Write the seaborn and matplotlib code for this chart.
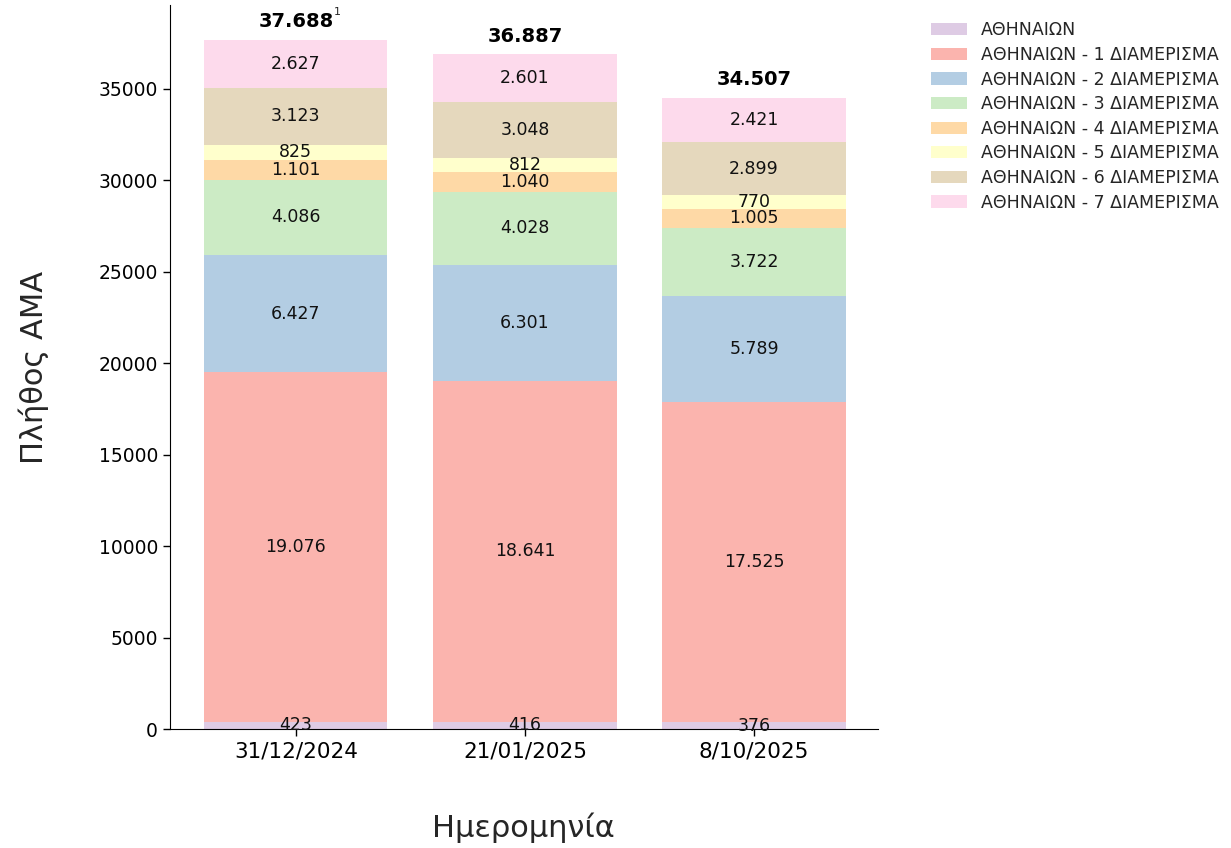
import numpy as np
import seaborn as sns
import matplotlib.pyplot as plt
from matplotlib.patches import Patch

dates = ["31/12/2024", "21/01/2025", "8/10/2025"]
series_names = ["ΑΘΗΝΑΙΩΝ",
                "ΑΘΗΝΑΙΩΝ - 1 ΔΙΑΜΕΡΙΣΜΑ",
                "ΑΘΗΝΑΙΩΝ - 2 ΔΙΑΜΕΡΙΣΜΑ",
                "ΑΘΗΝΑΙΩΝ - 3 ΔΙΑΜΕΡΙΣΜΑ",
                "ΑΘΗΝΑΙΩΝ - 4 ΔΙΑΜΕΡΙΣΜΑ",
                "ΑΘΗΝΑΙΩΝ - 5 ΔΙΑΜΕΡΙΣΜΑ",
                "ΑΘΗΝΑΙΩΝ - 6 ΔΙΑΜΕΡΙΣΜΑ",
                "ΑΘΗΝΑΙΩΝ - 7 ΔΙΑΜΕΡΙΣΜΑ"]
athinaion = [423, 416, 376]
d1 = [19076, 18641, 17525]
d2 = [6427, 6301, 5789]
d3 = [4086, 4028, 3722]
d4 = [1101, 1040, 1005]
d5 = [825, 812, 770]
d6 = [3123, 3048, 2899]
d7 = [2627, 2601, 2421]
series = [athinaion, d1, d2, d3, d4, d5, d6, d7]

pastel = sns.color_palette("Pastel1", 9)
colors = [pastel[3], pastel[0], pastel[1], pastel[2], pastel[4], pastel[5], pastel[6], pastel[7]]

def fmt(v):
    return f"{v:,}".replace(",", ".")

sns.set_style("white")
plt.rcParams['font.family'] = ['DejaVu Sans']

fig, ax = plt.subplots(figsize=(12.31, 8.48), dpi=100)
fig.subplots_adjust(left=0.138, right=0.713, bottom=0.14, top=0.994)

bottom = np.zeros(len(dates))
for name, vals, col in zip(series_names, series, colors):
    vals = np.array(vals)
    sns.barplot(x=dates, y=vals, bottom=bottom, color=col, saturation=1,
                width=0.8, ax=ax, linewidth=0)
    for i, v in enumerate(vals):
        ax.text(i, bottom[i] + v / 2, fmt(int(v)), ha='center', va='center',
                fontsize=12.5, color='#111111')
    bottom = bottom + vals

totals = bottom
for i, t in enumerate(totals):
    ax.annotate(fmt(int(t)), (i, t), xytext=(0, 6), textcoords='offset points',
                ha='center', va='bottom', fontsize=14, fontweight='bold', color='black')
# footnote marker on first total
ax.annotate("1", (0, totals[0]), xytext=(30, 16), textcoords='offset points',
            ha='center', va='bottom', fontsize=8)

ax.set_xlim(-0.55, 2.54)
ax.set_ylim(0, totals.max() * 1.05)
ax.set_yticks(np.arange(0, 35001, 5000))
ax.tick_params(axis='both', length=5, width=1, left=True, bottom=True, colors='black')
ax.tick_params(axis='y', labelsize=13.5)
ax.tick_params(axis='x', labelsize=15.5)
ax.set_xlabel("Ημερομηνία", fontsize=22, labelpad=37)
ax.set_ylabel("Πλήθος ΑΜΑ", fontsize=22, labelpad=36)
sns.despine(ax=ax)
for s in ax.spines.values():
    s.set_color('black')

handles = [Patch(facecolor=c, edgecolor='none') for c in colors]
ax.legend(handles, series_names, loc='upper left', bbox_to_anchor=(1.053, 0.999),
          frameon=False, fontsize=12.5, handlelength=2.1, labelspacing=0.38)

fig.savefig("out.png", dpi=100)
